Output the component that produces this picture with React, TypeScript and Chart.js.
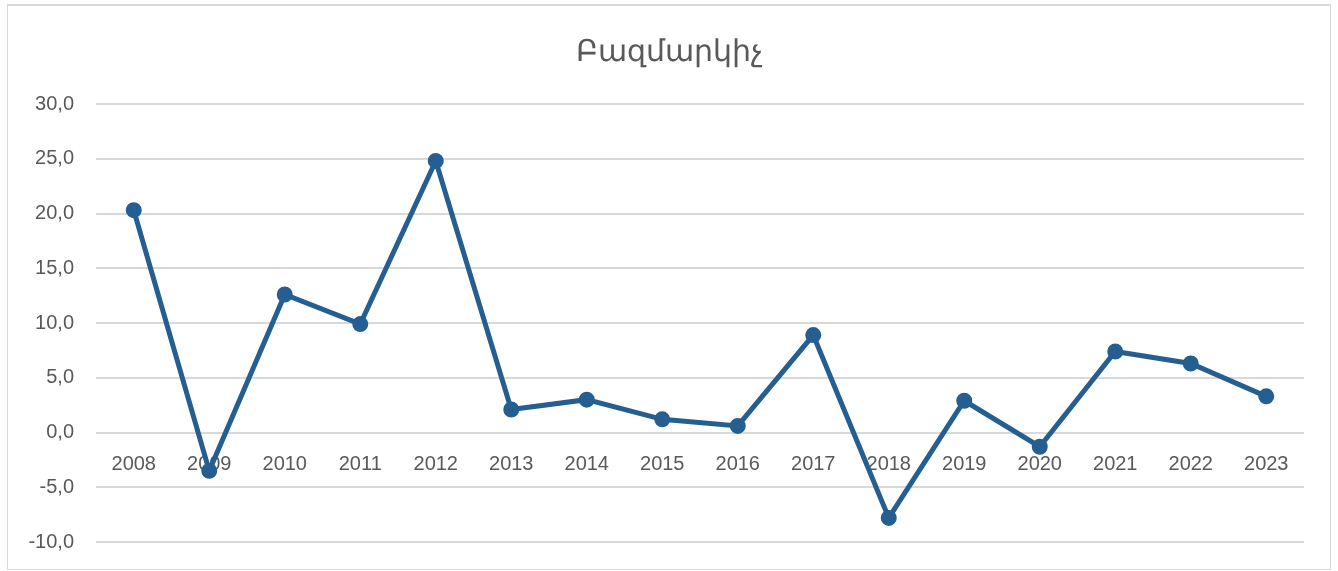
import React, { useEffect, useRef } from "react";
import { Chart, registerables } from "chart.js";

Chart.register(...registerables);

const title = "Բազմարկիչ";
const years = ["2008","2009","2010","2011","2012","2013","2014","2015","2016","2017","2018","2019","2020","2021","2022","2023"];
const values = [20.3, -3.5, 12.6, 9.9, 24.8, 2.1, 3.0, 1.2, 0.6, 8.9, -7.8, 2.9, -1.3, 7.4, 6.3, 3.3];
const yMin = -10;
const yMax = 30;
const yStep = 5;

export default function App() {
  const ref = useRef<HTMLCanvasElement | null>(null);
  useEffect(() => {
    if (!ref.current) return;
    const font = "'Liberation Sans', Arial, sans-serif";
    const chart = new Chart(ref.current, {
      type: "line",
      data: {
        labels: years,
        datasets: [
          {
            label: title,
            data: values,
            borderColor: "#255E91",
            backgroundColor: "#255E91",
            borderWidth: 5,
            pointRadius: 5.5,
            pointHoverRadius: 5.5,
            pointBackgroundColor: "#255E91",
            pointBorderColor: "#255E91",
            tension: 0,
          },
        ],
      },
      options: {
        animation: false,
        responsive: false,
        maintainAspectRatio: false,
        layout: { padding: { top: 17, right: 0, bottom: 27, left: 0 } },
        plugins: {
          legend: { display: false },
          tooltip: { enabled: false },
          title: {
            display: true,
            text: title,
            color: "#595959",
            font: { family: font, size: 30, weight: "normal" },
            padding: { top: 12, bottom: 33 },
          },
        },
        scales: {
          x: {
            type: "category",
            position: { y: 0 } as any,
            offset: true,
            grid: { display: false, drawTicks: false },
            border: { display: false },
            ticks: {
              color: "#595959",
              font: { family: font, size: 20 },
              padding: 20,
              maxRotation: 0,
              autoSkip: false,
            },
          },
          y: {
            min: yMin,
            max: yMax,
            grid: { color: "#d9d9d9", lineWidth: 2, drawTicks: false },
            border: { display: false },
            ticks: {
              stepSize: yStep,
              color: "#595959",
              font: { family: font, size: 20 },
              padding: 22,
              callback: (v: any) => Number(v).toFixed(1).replace(".", ","),
            },
            afterFit: (s: any) => {
              s.width = 88;
              s.paddingTop = 0;
              s.paddingBottom = 0;
            },
          },
          yRight: {
            position: "right",
            display: true,
            grid: { display: false, drawTicks: false },
            border: { display: false },
            ticks: { display: false },
            afterFit: (s: any) => {
              s.width = 26;
              s.paddingTop = 0;
              s.paddingBottom = 0;
            },
          },
        },
      },
    });
    return () => chart.destroy();
  }, []);
  return (
    <div
      style={{
        position: "absolute",
        left: 7,
        top: 4,
        width: 1322,
        height: 563,
        borderTop: "2px solid #d9d9d9",
        borderLeft: "1px solid #d9d9d9",
        borderRight: "1px solid #d9d9d9",
        borderBottom: "1px solid #d9d9d9",
        background: "#fff",
      }}
    >
      <canvas ref={ref} width={1322} height={563} style={{ display: "block" }} />
    </div>
  );
}
